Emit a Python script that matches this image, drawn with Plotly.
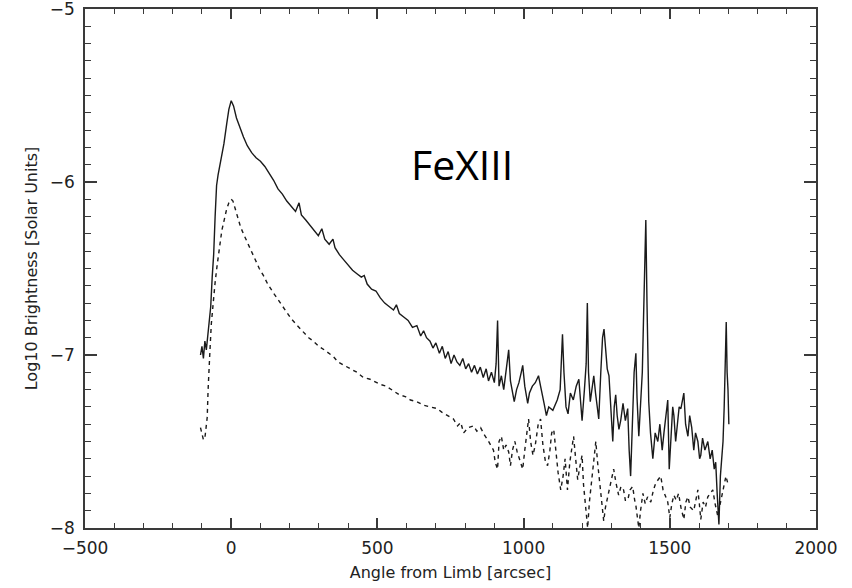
import plotly.graph_objects as go

# Solid curve (upper)
solid_x = [-105, -100, -95, -90, -85, -80, -75, -70, -65, -60, -55, -50, -45, -35, -25, -15, -8, 0,
           8, 18, 30, 42, 55, 70, 85, 100, 115, 130, 145, 160, 175, 190, 205, 220, 232, 240, 255, 270,
           285, 298, 310, 320, 335, 348, 355, 370, 385, 400, 415, 430, 445, 455, 465, 480, 495, 510,
           525, 540, 555, 565, 575, 590, 605, 620, 635, 648, 658, 668, 680, 690, 700, 712, 722, 732,
           742, 752, 762, 772, 782, 792, 802, 812, 822, 832, 842, 852, 862, 872, 880, 890, 900, 906,
           911, 916, 924, 932, 940, 949, 955, 962, 968, 976, 984, 992, 997, 1004, 1010, 1014, 1020,
           1030, 1040, 1051, 1058, 1064, 1070, 1078, 1086, 1100, 1115, 1125, 1133, 1138, 1145, 1152,
           1160, 1170, 1180, 1189, 1195, 1200, 1208, 1214, 1218, 1222, 1228, 1235, 1240, 1246, 1252,
           1257, 1264, 1270, 1275, 1280, 1286, 1292, 1298, 1305, 1310, 1315, 1320, 1326, 1332, 1340,
           1348, 1356, 1361, 1366, 1372, 1378, 1384, 1388, 1394, 1400, 1406, 1410, 1414, 1418, 1422,
           1428, 1434, 1442, 1450, 1459, 1466, 1474, 1480, 1486, 1493, 1498, 1504, 1510, 1514, 1520,
           1526, 1532, 1538, 1543, 1548, 1554, 1562, 1568, 1575, 1582, 1588, 1596, 1602, 1606, 1612,
           1620, 1630, 1638, 1645, 1652, 1657, 1662, 1668, 1673, 1678, 1682, 1686, 1690, 1693, 1696,
           1699, 1702]
solid_y = [-7.00, -6.95, -7.02, -6.92, -6.97, -6.88, -6.80, -6.72, -6.55, -6.42, -6.20, -6.02, -5.96,
           -5.88, -5.78, -5.66, -5.58, -5.53,
           -5.56, -5.63, -5.69, -5.74, -5.79, -5.83, -5.86, -5.88, -5.91, -5.95, -5.99, -6.04, -6.07,
           -6.11, -6.14, -6.17, -6.12, -6.19, -6.22, -6.25,
           -6.28, -6.31, -6.27, -6.33, -6.36, -6.33, -6.38, -6.42, -6.45, -6.48, -6.51, -6.53, -6.55,
           -6.54, -6.59, -6.62, -6.63, -6.67,
           -6.70, -6.72, -6.74, -6.71, -6.76, -6.78, -6.80, -6.84, -6.83, -6.89, -6.86, -6.90, -6.92,
           -6.96, -6.93, -6.99, -6.95, -7.02,
           -6.98, -7.05, -7.00, -7.04, -7.06, -7.02, -7.08, -7.05, -7.10, -7.06, -7.11, -7.07, -7.13,
           -7.08, -7.15, -7.10, -7.16, -7.05,
           -6.80, -7.18, -7.12, -7.20, -7.10, -6.97, -7.15, -7.22, -7.27, -7.20, -7.16, -7.10, -7.06,
           -7.18, -7.24, -7.28, -7.22,
           -7.18, -7.16, -7.12, -7.18, -7.24, -7.28, -7.35, -7.30, -7.32, -7.26, -7.20, -6.88, -7.10,
           -7.30, -7.34,
           -7.22, -7.26, -7.18, -7.14, -7.30, -7.38, -7.20, -7.05, -6.70, -7.10, -7.27, -7.18, -7.12,
           -7.22, -7.32,
           -7.37, -7.10, -6.90, -6.85, -6.95, -7.08, -7.12, -7.30, -7.50, -7.30, -7.23, -7.35, -7.43,
           -7.38, -7.28,
           -7.38, -7.31, -7.55, -7.70, -7.40, -7.10, -6.99, -7.25, -7.47, -7.30, -7.10, -6.80, -6.40,
           -6.22, -6.70,
           -7.27, -7.45, -7.60, -7.45, -7.50, -7.40, -7.55, -7.45, -7.35, -7.26, -7.66, -7.45, -7.30,
           -7.35, -7.50,
           -7.40, -7.30, -7.31, -7.25, -7.22, -7.40, -7.47, -7.35, -7.42, -7.55, -7.45, -7.50, -7.60,
           -7.58, -7.48,
           -7.55, -7.50, -7.60, -7.55, -7.66, -7.62, -7.80, -7.98, -7.70, -7.55, -7.50, -7.30, -7.00,
           -6.81, -7.10,
           -7.20, -7.40]

# Dashed curve (lower)
dash_x = [-105, -100, -95, -90, -85, -82, -79, -76, -72, -68, -62, -55, -48, -40, -32, -24, -16, -8, 0,
          6, 14, 22, 32, 42, 55, 68, 82, 96, 110, 125, 144, 165, 185, 205, 226, 247, 265, 281, 300,
          318, 335, 350, 365, 385, 408, 430, 452, 475, 495, 510, 530, 555, 575, 595, 613, 635, 658,
          680, 705, 720, 740, 760, 774, 785, 795, 810, 829, 840, 853, 865, 877, 888, 897, 903, 911,
          916, 924, 932, 940, 949, 955, 962, 970, 978, 990, 997, 1004, 1010, 1017, 1024, 1032, 1040,
          1050, 1058, 1066, 1075, 1082, 1090, 1096, 1103, 1110, 1118, 1127, 1135, 1142, 1150, 1158,
          1165, 1171, 1178, 1185, 1192, 1200, 1205, 1212, 1219, 1225, 1232, 1240, 1247, 1253, 1260,
          1266, 1274, 1280, 1291, 1300, 1308, 1316, 1325, 1333, 1342, 1348, 1356, 1364, 1373, 1380,
          1384, 1390, 1394, 1400, 1408, 1416, 1424, 1435, 1444, 1452, 1460, 1469, 1477, 1485, 1493,
          1500, 1507, 1514, 1522, 1530, 1538, 1548, 1555, 1562, 1570, 1582, 1590, 1596, 1601, 1606,
          1614, 1622, 1630, 1640, 1647, 1655, 1664, 1670, 1675, 1684, 1692, 1698]
dash_y = [-7.42, -7.46, -7.49, -7.48, -7.42, -7.36, -7.20, -7.05, -6.95, -6.82, -6.70, -6.58, -6.48,
          -6.38, -6.28, -6.22, -6.16, -6.12, -6.10,
          -6.11, -6.16, -6.21, -6.26, -6.30, -6.35, -6.40, -6.45, -6.50, -6.54, -6.59, -6.64, -6.69,
          -6.74, -6.79, -6.83, -6.87, -6.90, -6.92, -6.95,
          -6.97, -6.99, -7.01, -7.04, -7.06, -7.08, -7.10, -7.13, -7.14, -7.16, -7.17, -7.18, -7.21,
          -7.23, -7.24, -7.26, -7.27, -7.29,
          -7.30, -7.31, -7.33, -7.35, -7.37, -7.41, -7.39, -7.45, -7.42, -7.41, -7.44, -7.42, -7.46,
          -7.49, -7.52, -7.55, -7.62, -7.66,
          -7.50, -7.47, -7.55, -7.52, -7.56, -7.64, -7.55, -7.50, -7.56, -7.62, -7.66, -7.55, -7.45,
          -7.37, -7.50, -7.58, -7.52,
          -7.40, -7.37, -7.52, -7.62, -7.64, -7.55, -7.45, -7.43, -7.55, -7.68, -7.78, -7.70, -7.60,
          -7.78, -7.62,
          -7.52, -7.47, -7.60, -7.72, -7.65, -7.58, -7.75, -7.90, -8.00, -7.85, -7.74, -7.60, -7.50,
          -7.62, -7.74,
          -7.85, -7.96, -7.88, -7.80, -7.72, -7.66, -7.74, -7.81, -7.76, -7.78, -7.84, -7.84, -7.78,
          -7.76, -7.84,
          -7.87, -7.95, -8.00, -7.90, -7.80, -7.86, -7.82, -7.85, -7.78, -7.74, -7.72, -7.70, -7.78,
          -7.82, -7.85,
          -7.94, -7.86, -7.81, -7.84, -7.80, -7.88, -7.95, -7.85, -7.82, -7.88, -7.90, -7.84, -7.78,
          -7.86, -7.95,
          -7.85, -7.88, -7.82, -7.80, -7.78, -7.86, -7.93, -7.88, -7.84, -7.78, -7.70, -7.74]

x_ticks = [-500, 0, 500, 1000, 1500, 2000]
y_ticks = [-8, -7, -6, -5]

axis_color = "#3a3a3a"
font_fam = "DejaVu Sans, Liberation Sans, sans-serif"
tick_font = dict(family=font_fam, size=17, color="#222222")

fig = go.Figure()
fig.add_trace(go.Scatter(x=solid_x, y=solid_y, mode="lines",
                         line=dict(color="#1a1a1a", width=1.4), showlegend=False))
fig.add_trace(go.Scatter(x=dash_x, y=dash_y, mode="lines",
                         line=dict(color="#1a1a1a", width=1.4, dash="4px,4px"), showlegend=False))

fig.add_annotation(x=788, y=-5.898, xref="x", yref="y", text="FeXIII", showarrow=False,
                   font=dict(family="Open Sans, sans-serif", size=41, color="#000000"),
                   xanchor="center", yanchor="middle")

fig.update_layout(
    width=852, height=588,
    margin=dict(l=85, r=36, t=9, b=60),
    paper_bgcolor="white", plot_bgcolor="white",
    xaxis=dict(range=[-500, 2000], tickvals=x_ticks, ticktext=[str(v).replace("-", "\u2212") for v in x_ticks],
               automargin=False,
               showgrid=False, zeroline=False, showline=True, linecolor=axis_color, linewidth=1.5,
               mirror="ticks", ticks="inside", ticklen=10, tickwidth=1.5, tickcolor=axis_color,
               minor=dict(dtick=100, tick0=0, ticks="inside", ticklen=5, tickwidth=1.2, tickcolor=axis_color),
               tickfont=tick_font, ticklabelstandoff=4,
               title=dict(text="Angle from Limb [arcsec]", standoff=10,
                          font=dict(family=font_fam, size=16, color="#222222"))),
    yaxis=dict(range=[-8, -5], tickvals=y_ticks, ticktext=[str(v).replace("-", "\u2212") for v in y_ticks],
               automargin=False, ticklabeloverflow="allow",
               showgrid=False, zeroline=False, showline=True, linecolor=axis_color, linewidth=1.5,
               mirror="ticks", ticks="inside", ticklen=12, tickwidth=1.5, tickcolor=axis_color,
               minor=dict(dtick=0.1, tick0=0, ticks="inside", ticklen=6, tickwidth=1.2, tickcolor=axis_color),
               tickfont=tick_font, ticklabelstandoff=5,
               title=dict(text="Log10 Brightness [Solar Units]", standoff=8,
                          font=dict(family=font_fam, size=16, color="#222222"))),
)

fig.write_html("out.html")
